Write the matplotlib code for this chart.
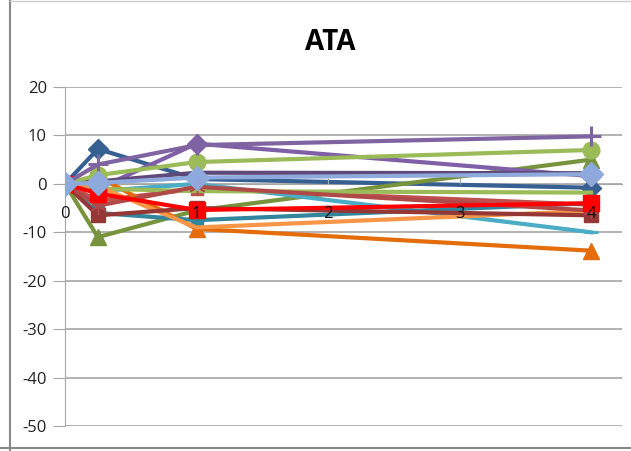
import matplotlib
matplotlib.use("Agg")
import matplotlib.pyplot as plt
from matplotlib.lines import Line2D

plt.rcParams['font.family'] = ['Open Sans', 'DejaVu Sans']
plt.rcParams['axes.unicode_minus'] = False

x_values = [0, 0.25, 1, 4]
title = "ATA"
x_ticks = [0, 1, 2, 3, 4]
y_ticks = [-50, -40, -30, -20, -10, 0, 10, 20]

s_blue = [0, 7.2, 1.0, -0.8]
s_brown = [0, -3.5, -1.0, -4.3]
s_darkgreen = [0, -11.0, -5.5, 5.0]
s_purple_x = [0, -1.0, 8.3, 1.6]
s_aqua = [0, -1.5, 0.0, -10.0]
s_orange_tri = [0, 1.5, -9.3, -13.8]
s_green_circle = [0, 1.8, 4.5, 7.0]
s_darkpurple = [0, 0.5, 2.3, 2.2]
s_green_flat = [0, -1.0, -1.5, -1.8]
s_red = [0, -2.0, -5.4, -4.0]
s_darkred = [0, -6.5, -5.0, -6.5]
s_teal = [0, -6.0, -7.5, -4.0]
s_orange2 = [0, -0.5, -9.0, -5.6]
s_purple_plus = [0, 4.0, 8.0, 9.8]
s_darkred_star = [0, -4.5, -0.6, -5.5]
s_lightblue = [0, 0.2, 1.3, 2.0]

series = [
    (s_blue, '#376092', 'D', 10),
    (s_brown, '#C0504D', 's', 9),
    (s_darkgreen, '#77933C', '^', 11),
    (s_purple_x, '#7F5FA6', 'D', 10),
    (s_aqua, '#4BACC6', '_', 10),
    (s_orange_tri, '#E46C0A', '^', 11),
    (s_darkpurple, '#5F497A', '', 0),
    (s_green_flat, '#9BBB59', '', 0),
    (s_teal, '#31859C', 's', 8),
    (s_orange2, '#F79646', '', 0),
    (s_darkred, '#953735', 's', 10),
    (s_darkred_star, '#B04A48', (6, 2, 0), 12),
    (s_red, '#FF0000', 's', 12),
    (s_green_circle, '#9BBB59', 'o', 12),
    (s_purple_plus, '#8064A2', '+', 14),
    (s_lightblue, '#8EA9DB', 'D', 12),
]

fig = plt.figure(figsize=(6.31, 4.51), dpi=100)
ax = fig.add_axes([65/631, 1-426/451, (622-65)/631, (426-87)/451])

for vals, col, mk, ms in series:
    ax.plot(x_values, vals, color=col, lw=3.0, marker=mk if mk else None,
            markersize=ms, markeredgewidth=2.2 if mk in ('+', '_') else 1,
            markeredgecolor=col, solid_joinstyle='round', zorder=2)

ax.set_xlim(0, 4.235)
ax.set_ylim(-50, 20)
ax.set_yticks(y_ticks)
ax.set_xticks(x_ticks)
ax.grid(axis='y', color='#A6A6A6', lw=1.2)
ax.yaxis.set_zorder(0.5)
ax.xaxis.set_zorder(4)
for s in ['top', 'right']:
    ax.spines[s].set_visible(False)
ax.spines['bottom'].set_position(('data', 0))
ax.spines['bottom'].set_color('#A6A6A6')
ax.spines['left'].set_color('#A6A6A6')
ax.spines['bottom'].set_zorder(1)
ax.spines['left'].set_zorder(1)
ax.tick_params(axis='y', length=9, color='#A6A6A6', labelsize=12, pad=4, labelcolor='#222222')
ax.tick_params(axis='x', length=4, direction='in', color='#A6A6A6', labelsize=12, pad=16, labelcolor='#111111')

fig.text(0.523, 0.905, title, ha='center', va='center', fontsize=20, fontweight='bold',
         family=['Open Sans', 'DejaVu Sans'])

# chart border lines
fig.add_artist(Line2D([10/631, 10/631], [0, 1], color='#888888', lw=1.5))
fig.add_artist(Line2D([0, 1], [3/451, 3/451], color='#888888', lw=1.5))
fig.add_artist(Line2D([10/631, 1], [450/451, 450/451], color='#CCCCCC', lw=1))

fig.savefig('out.png', dpi=100)
